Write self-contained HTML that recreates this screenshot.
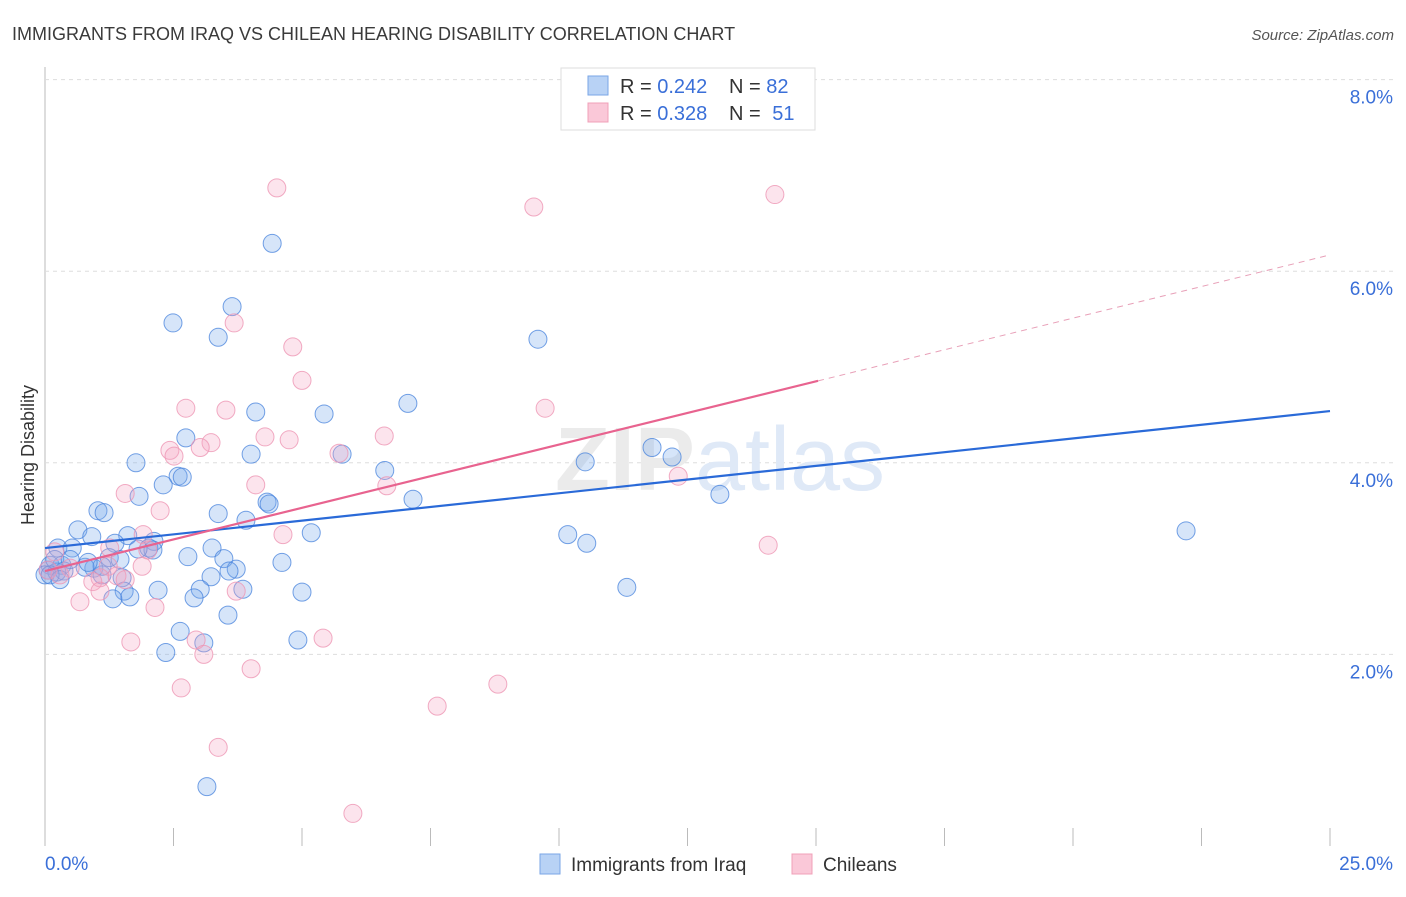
<!DOCTYPE html>
<html><head><meta charset="utf-8"><style>
body{margin:0;background:#fff;font-family:"Liberation Sans",sans-serif}
svg text{font-family:"Liberation Sans",sans-serif}
</style></head><body>
<svg id="chart" width="1406" height="892" xmlns="http://www.w3.org/2000/svg">
<text x="12" y="40" font-size="18" fill="#3a3a3a">IMMIGRANTS FROM IRAQ VS CHILEAN HEARING DISABILITY CORRELATION CHART</text>
<text x="1394" y="40" font-size="15" fill="#555" font-style="italic" text-anchor="end">Source: ZipAtlas.com</text>
<g id="grid"></g>
<text x="720" y="490" font-size="90" fill="#ebebeb" text-anchor="middle" font-weight="bold">ZIP<tspan font-weight="normal" fill="#dfe9f7">atlas</tspan></text>
<text transform="translate(34,455) rotate(-90)" font-size="18" fill="#333" text-anchor="middle">Hearing Disability</text>
<g id="pts"></g>
<g id="lines"></g>
<g>
<rect x="561" y="68" width="254" height="62" fill="#fff" stroke="#ddd"/>
<rect x="588" y="76" width="20" height="19" fill="#b8d2f5" stroke="#7aa6e6"/>
<rect x="588" y="103" width="20" height="19" fill="#fac8d8" stroke="#f0a0b8"/>
<text x="620" y="93" font-size="20" fill="#333">R = <tspan fill="#3a6fd8">0.242</tspan></text>
<text x="729" y="93" font-size="20" fill="#333">N = <tspan fill="#3a6fd8">82</tspan></text>
<text x="620" y="120" font-size="20" fill="#333">R = <tspan fill="#3a6fd8">0.328</tspan></text>
<text x="729" y="120" font-size="20" fill="#333">N = <tspan fill="#3a6fd8" dx="6">51</tspan></text>
</g>
<g>
<rect x="540" y="854" width="20" height="20" fill="#b8d2f5" stroke="#7aa6e6"/>
<text x="571" y="871" font-size="19" fill="#333">Immigrants from Iraq</text>
<rect x="792" y="854" width="20" height="20" fill="#fac8d8" stroke="#f0a0b8"/>
<text x="823" y="871" font-size="19" fill="#333">Chileans</text>
</g>
</svg>
<script>
const yTicks=[2,4,6,8];
const yTickLabels=["2.0%","4.0%","6.0%","8.0%"];
const xTickLabels=["0.0%","25.0%"];
const iraqX=[4.42,3.64,2.49,3.37,9.59,7.06,4.10,5.43,2.74,11.81,5.78,4.01,12.20,1.77,10.51,6.61,2.59,2.67,2.30,1.83,13.13,7.16,4.32,4.36,1.03,1.15,3.37,3.91,0.64,22.20,5.18,1.61,10.17,0.91,1.36,2.12,10.54,0.25,0.53,2.02,2.10,3.25,2.78,1.25,3.48,4.61,1.46,0.10,0.33,0.06,0.95,3.72,0.23,3.58,1.11,1.50,3.23,3.02,2.20,1.54,3.85,5.00,11.32,1.65,1.32,2.90,3.56,2.63,3.09,4.92,2.35,3.15,0.78,0.37,0.00,0.19,1.81,1.11,0.49,0.10,0.29,0.84];
const iraqY=[6.29,5.63,5.46,5.31,5.29,4.62,4.53,4.51,4.26,4.16,4.09,4.09,4.06,4.00,4.01,3.92,3.86,3.85,3.77,3.65,3.67,3.62,3.59,3.57,3.50,3.48,3.47,3.40,3.30,3.29,3.27,3.24,3.25,3.23,3.16,3.18,3.16,3.11,3.11,3.11,3.09,3.11,3.02,3.01,3.00,2.96,2.99,2.93,2.93,2.88,2.90,2.89,2.86,2.87,2.83,2.80,2.81,2.68,2.67,2.66,2.68,2.65,2.70,2.60,2.58,2.59,2.41,2.24,2.12,2.15,2.02,0.62,2.91,2.87,2.83,2.99,3.10,2.92,2.99,2.83,2.78,2.96];
const chileX=[4.51,14.20,9.51,3.68,4.82,5.00,2.74,3.52,9.73,6.60,4.28,4.75,3.23,2.43,3.02,2.51,5.72,12.32,6.65,4.10,1.56,2.24,4.63,1.91,14.07,1.26,0.19,2.00,1.89,1.23,0.49,0.06,0.29,1.07,1.40,1.56,0.93,3.72,1.07,0.68,2.14,1.67,5.41,2.94,3.09,4.01,2.65,8.81,7.63,3.37,5.99];
const chileY=[6.87,6.80,6.67,5.46,5.21,4.86,4.57,4.55,4.57,4.28,4.27,4.24,4.21,4.13,4.16,4.07,4.10,3.86,3.76,3.77,3.68,3.50,3.25,3.25,3.14,3.11,3.07,3.09,2.92,2.92,2.90,2.88,2.83,2.80,2.82,2.78,2.76,2.66,2.66,2.55,2.49,2.13,2.17,2.15,2.00,1.85,1.65,1.69,1.46,1.03,0.34];
const iraqTrend=[3.11,4.54];
const chileTrend=[2.87,6.17];
const chileSolidEnd=15.04;
const NS="http://www.w3.org/2000/svg";
const X0=45,X1=1330,Y0=846,PY=95.8;
function sx(v){return X0+(v/25)*(X1-X0);}
function sy(v){return Y0-v*PY;}
function mk(tag,attrs,parent){const e=document.createElementNS(NS,tag);for(const k in attrs)e.setAttribute(k,attrs[k]);parent.appendChild(e);return e;}
const grid=document.getElementById('grid');
let ax=mk('line',{x1:X0,x2:X0,y1:67,y2:Y0,stroke:'#bbb'},grid);


yTicks.forEach((t,i)=>{
 let l=mk('line',{x1:X0,x2:1393,y1:sy(t),y2:sy(t),stroke:'#ddd','stroke-dasharray':'4,4'},grid);
 
 
 let tx=mk('text',{x:1393,y:sy(t)+24,'font-size':19,fill:'#3a6fd8','text-anchor':'end'},grid);
 tx.textContent=yTickLabels[i];
 
 
});
for(let i=0;i<=10;i++){
 let l=mk('line',{x1:sx(i*2.5),x2:sx(i*2.5),y1:828,y2:Y0,stroke:'#bbb'},grid);
 
 
}
let xl0=mk('text',{x:45,y:870,'font-size':19,fill:'#3a6fd8'},grid);xl0.textContent=xTickLabels[0];


let xl1=mk('text',{x:1393,y:870,'font-size':19,fill:'#3a6fd8','text-anchor':'end'},grid);xl1.textContent=xTickLabels[1];


const pts=document.getElementById('pts');
iraqX.forEach((x,i)=>{
 let c=mk('circle',{cx:sx(x),cy:sy(iraqY[i]),r:9,fill:'rgba(120,168,235,0.3)',stroke:'rgba(70,130,220,0.75)','stroke-width':1},pts);
 
 
});
chileX.forEach((x,i)=>{
 let c=mk('circle',{cx:sx(x),cy:sy(chileY[i]),r:9,fill:'rgba(245,165,195,0.3)',stroke:'rgba(238,150,180,0.8)','stroke-width':1},pts);
 
 
});
const lines=document.getElementById('lines');
let bl=mk('line',{x1:sx(0),y1:sy(iraqTrend[0]),x2:sx(25),y2:sy(iraqTrend[1]),stroke:'#2a6ad8','stroke-width':2.2},lines);


const cy=x=>chileTrend[0]+(chileTrend[1]-chileTrend[0])*x/25;
let pl=mk('line',{x1:sx(0),y1:sy(cy(0)),x2:sx(chileSolidEnd),y2:sy(cy(chileSolidEnd)),stroke:'#e8638f','stroke-width':2.2},lines);


let pd=mk('line',{x1:sx(chileSolidEnd),y1:sy(cy(chileSolidEnd)),x2:sx(25),y2:sy(cy(25)),stroke:'#e8a0b8','stroke-width':1,'stroke-dasharray':'6,5'},lines);


</script>
</body></html>
